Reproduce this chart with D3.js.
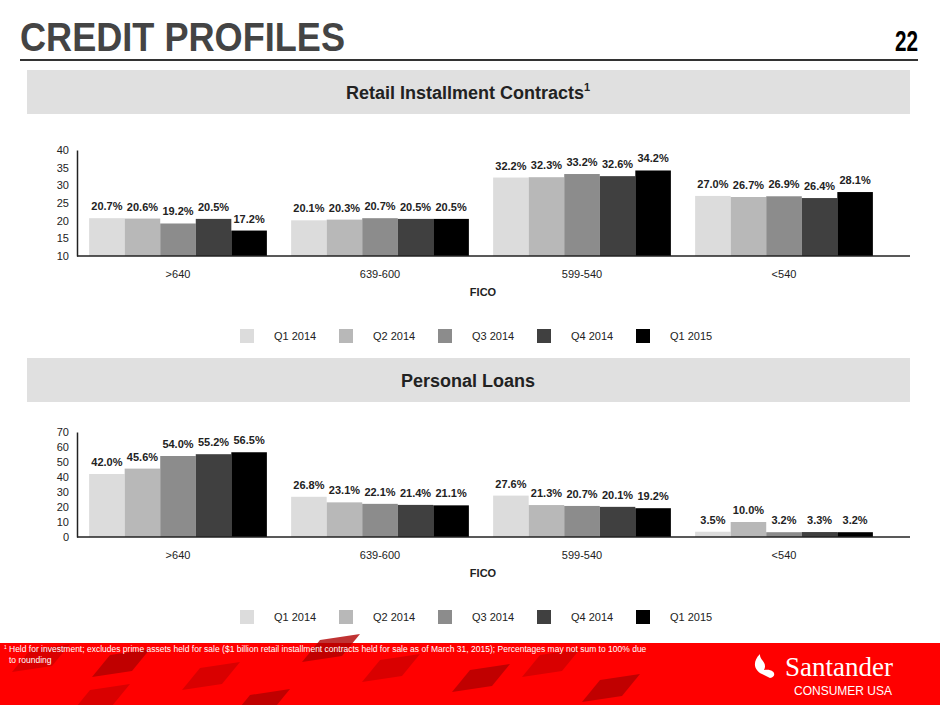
<!DOCTYPE html>
<html><head><meta charset="utf-8">
<script src="https://cdn.jsdelivr.net/npm/d3@7"></script>
<style>body{margin:0;background:#fff;font-family:Arial,"Liberation Sans",sans-serif}</style>
</head><body><svg id="c" width="940" height="705"></svg>
<script>
var categories = [">640", "639-600", "599-540", "<540"];
var seriesNames = ["Q1 2014", "Q2 2014", "Q3 2014", "Q4 2014", "Q1 2015"];
var colors = ["#dcdcdc", "#b8b8b8", "#8c8c8c", "#404040", "#000000"];
var ricValues = [
  [20.7, 20.6, 19.2, 20.5, 17.2],
  [20.1, 20.3, 20.7, 20.5, 20.5],
  [32.2, 32.3, 33.2, 32.6, 34.2],
  [27.0, 26.7, 26.9, 26.4, 28.1]
];
var plValues = [
  [42.0, 45.6, 54.0, 55.2, 56.5],
  [26.8, 23.1, 22.1, 21.4, 21.1],
  [27.6, 21.3, 20.7, 20.1, 19.2],
  [3.5, 10.0, 3.2, 3.3, 3.2]
];
var ricTicks = [10, 15, 20, 25, 30, 35, 40];
var plTicks = [0, 10, 20, 30, 40, 50, 60, 70];

var svg = d3.select("#c");

// title
svg.append("text").attr("x", 20).attr("y", 51).attr("fill", "#444")
  .attr("font-size", 40).attr("font-weight", "bold")
  .attr("textLength", 325).attr("lengthAdjust", "spacingAndGlyphs").text("CREDIT PROFILES");
svg.append("text").attr("x", 918).attr("y", 51).attr("text-anchor", "end").attr("fill", "#000")
  .attr("font-size", 29).attr("font-weight", "bold").attr("textLength", 23).attr("lengthAdjust", "spacingAndGlyphs").text("22");
svg.append("line").attr("x1", 20).attr("x2", 918).attr("y1", 60).attr("y2", 60).attr("stroke", "#333").attr("stroke-width", 2);

function band(y, label, sup) {
  svg.append("rect").attr("x", 27).attr("y", y).attr("width", 883).attr("height", 44).attr("fill", "#e0e0e0");
  var t = svg.append("text").attr("x", 468).attr("y", y + 29).attr("text-anchor", "middle")
    .attr("font-size", 18).attr("font-weight", "bold").attr("fill", "#222").text(label);
  if (sup) t.append("tspan").attr("dy", -8).attr("font-size", 11).text(sup);
}
band(70, "Retail Installment Contracts", "1");
band(358, "Personal Loans", null);

function chart(values, ticks, top, bottom, legendY) {
  var x = d3.scaleBand().domain(categories).range([77, 885]).paddingInner(0.12).paddingOuter(0.06);
  var x1 = d3.scaleBand().domain(seriesNames).range([0, x.bandwidth()]);
  var y = d3.scaleLinear().domain([ticks[0], ticks[ticks.length - 1]]).range([bottom, top]);
  var g = svg.append("g");
  g.append("g").attr("transform", "translate(77,0)")
    .call(d3.axisLeft(y).tickValues(ticks).tickSize(0).tickPadding(8))
    .call(function (a) { a.select(".domain").attr("stroke", "#222").attr("stroke-width", 1.5); a.selectAll("text").attr("font-size", 11).attr("fill", "#222").attr("font-family", "Arial"); });
  categories.forEach(function (c, i) {
    var gg = g.append("g").attr("transform", "translate(" + x(c) + ",0)");
    gg.selectAll("rect").data(values[i]).enter().append("rect")
      .attr("x", function (d, j) { return x1(seriesNames[j]); })
      .attr("y", function (d) { return y(d); })
      .attr("width", x1.bandwidth()).attr("height", function (d) { return bottom - y(d); })
      .attr("fill", function (d, j) { return colors[j]; });
    gg.selectAll("text").data(values[i]).enter().append("text")
      .attr("x", function (d, j) { return x1(seriesNames[j]) + x1.bandwidth() / 2; })
      .attr("y", function (d) { return y(d) - 8; })
      .attr("text-anchor", "middle").attr("font-size", 11).attr("font-weight", "bold").attr("fill", "#222")
      .text(function (d) { return d.toFixed(1) + "%"; });
  });
  g.append("line").attr("x1", 77).attr("x2", 910).attr("y1", bottom).attr("y2", bottom).attr("stroke", "#222").attr("stroke-width", 1.5);
  g.append("g").attr("transform", "translate(0," + bottom + ")")
    .call(d3.axisBottom(x).tickSize(0).tickPadding(14))
    .call(function (a) { a.select(".domain").remove(); a.selectAll("text").attr("font-size", 11).attr("fill", "#222").attr("font-family", "Arial"); });
  g.append("text").attr("x", 483).attr("y", bottom + 40).attr("text-anchor", "middle")
    .attr("font-size", 11).attr("font-weight", "bold").attr("fill", "#222").text("FICO");
  var lx = d3.scalePoint().domain(seriesNames).range([240, 636]);
  var lg = g.selectAll(".lg").data(seriesNames).enter().append("g")
    .attr("transform", function (d) { return "translate(" + lx(d) + "," + legendY + ")"; });
  lg.append("rect").attr("x", 0).attr("y", -7).attr("width", 14).attr("height", 14).attr("fill", function (d, j) { return colors[j]; });
  lg.append("text").attr("x", 34).attr("y", 4).attr("font-size", 11).attr("fill", "#222").text(function (d) { return d; });
}
chart(ricValues, ricTicks, 150, 256, 336);
chart(plValues, plTicks, 432, 537, 617);

// footer
var f = svg.append("g");
f.append("rect").attr("x", 0).attr("y", 643).attr("width", 940).attr("height", 62).attr("fill", "#f00");
var tiles = [[30, 650], [110, 655], [200, 668], [320, 640], [380, 660], [470, 670], [540, 655], [600, 680], [90, 690], [250, 695]];
tiles.forEach(function (t, i) {
  f.append("polygon").attr("points", [[t[0], t[1]], [t[0] + 40, t[1] - 6], [t[0] + 22, t[1] + 16], [t[0] - 18, t[1] + 22]].join(" "))
    .attr("fill", i % 2 ? "#b00000" : "#d00000").attr("opacity", 0.8);
});
var ft = f.append("text").attr("font-size", 8.5).attr("fill", "#fff");
ft.append("tspan").attr("x", 4).attr("y", 649).attr("font-size", 5).text("1");
ft.append("tspan").attr("x", 9).attr("y", 652).text("Held for investment; excludes prime assets held for sale ($1 billion retail installment contracts held for sale as of March 31, 2015); Percentages may not sum to 100% due");
ft.append("tspan").attr("x", 9).attr("y", 663).text("to rounding");
f.append("path").attr("d", "M762,674 c-8,-4 -10,-12 -2,-20 c-1,6 8,8 4,16 c10,-2 14,6 6,8 z").attr("fill", "#fff");
f.append("text").attr("x", 785).attr("y", 676).attr("font-size", 27).attr("fill", "#fff")
  .attr("font-family", "Liberation Serif,serif").text("Santander");
f.append("text").attr("x", 794).attr("y", 695).attr("font-size", 12).attr("fill", "#fff").text("CONSUMER USA");
</script></body></html>
